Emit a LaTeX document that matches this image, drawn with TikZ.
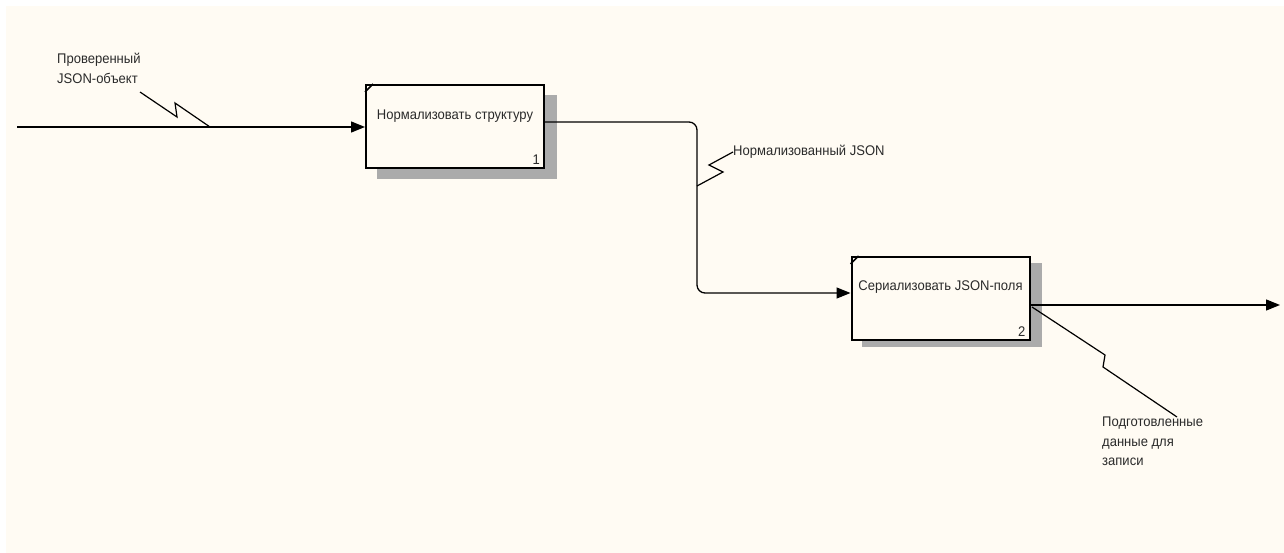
\documentclass[tikz,border=0pt]{standalone}
\usepackage{fontspec}
\setmainfont[FakeStretch=0.93]{Liberation Sans}
\usetikzlibrary{arrows.meta,patterns}
\definecolor{paper}{HTML}{FFFBF3}
\definecolor{ink}{HTML}{2A2A2A}
\definecolor{shade}{HTML}{ABABAB}
\tikzset{
  actbox/.style={draw=black, line width=2pt, fill=paper, minimum width=178pt,
    minimum height=83pt, inner sep=0pt},
  shadowbox/.style={fill=shade, draw=none, minimum width=180pt,
    minimum height=84pt, inner sep=0pt},
  flow/.style={draw=black, line width=1.3pt, -{Triangle[length=14pt,width=11pt]}},
  squiggle/.style={draw=black, line width=1.2pt, line join=miter},
  lbl/.style={font=\fontsize{14}{19.5}\selectfont, text=ink, inner sep=0pt, align=left},
  boxlbl/.style={font=\fontsize{14}{16}\selectfont, text=ink, inner sep=0pt},
}
\begin{document}
\begin{tikzpicture}[x=1pt,y=-1pt]
  % page
  \fill[white] (0,0) rectangle (1284,553);
  \fill[paper] (6,6) rectangle (1284,553);
  \useasboundingbox (0,0) rectangle (1284,553);

  % shadows of the activity boxes
  \node[shadowbox] (sh1) at (467,137) {};
  \node[shadowbox] (sh2) at (952,305) {};

  % activity boxes
  \node[actbox] (box1) at (455,126.5) {};
  \node[actbox] (box2) at (940.5,298.5) {};

  % corner ticks
  \draw[line width=1.5pt] ([yshift=-8pt]box1.north west) -- ([xshift=8pt]box1.north west);
  \draw[line width=1.5pt] ([yshift=-8pt]box2.north west) -- ([xshift=8pt]box2.north west);

  % box titles and numbers
  \node[boxlbl] (t1) at ([yshift=-32pt]box1.north) {Нормализовать структуру};
  \node[boxlbl] (t2) at ([yshift=-31pt]box2.north) {Сериализовать JSON-поля};
  \node[boxlbl, anchor=south east] (n1) at ([xshift=-5pt,yshift=4pt]box1.south east) {1};
  \node[boxlbl, anchor=south east] (n2) at ([xshift=-5pt,yshift=4pt]box2.south east) {2};

  % input arrow
  \coordinate (src) at (17,127);
  \draw[flow] (src) -- (src -| box1.west);

  % link between the boxes
  \coordinate (out1) at ([yshift=4.5pt]box1.east);
  \coordinate (in2) at ([yshift=5.5pt]box2.west);
  \coordinate (bend) at (697,0);
  \draw[flow, rounded corners=8pt] (out1) -- (out1 -| bend) -- (bend |- in2) -- (in2);

  % output arrow
  \coordinate (out2) at ([yshift=-6.5pt]box2.east);
  \coordinate (sink) at (1280,305);
  \draw[flow] (out2) -- (sink);

  % labels with their squiggles
  \node[lbl, anchor=north west] (L1) at (57,53) {Проверенный\\JSON-объект};
  \coordinate (a1) at (140,92);
  \coordinate (a2) at (177,117);
  \coordinate (a3) at (175,103);
  \coordinate (a4) at (210,127);
  \draw[squiggle] (a1) -- (a2) -- (a3) -- (a4);

  \node[lbl, anchor=west] (L2) at (733,152) {Нормализованный JSON};
  \coordinate (b1) at (697,186);
  \coordinate (b2) at (723,172);
  \coordinate (b3) at (709,165);
  \draw[squiggle] (b1) -- (b2) -- (b3) -- (L2.west);

  \node[lbl, anchor=north west] (L3) at (1102,417) {Подготовленные\\данные для\\записи};
  \coordinate (c1) at (1032,307);
  \coordinate (c2) at (1105,355);
  \coordinate (c3) at (1103,367);
  \coordinate (c4) at (1177,417);
  \draw[squiggle] (c1) -- (c2) -- (c3) -- (c4);
\end{tikzpicture}
\end{document}
